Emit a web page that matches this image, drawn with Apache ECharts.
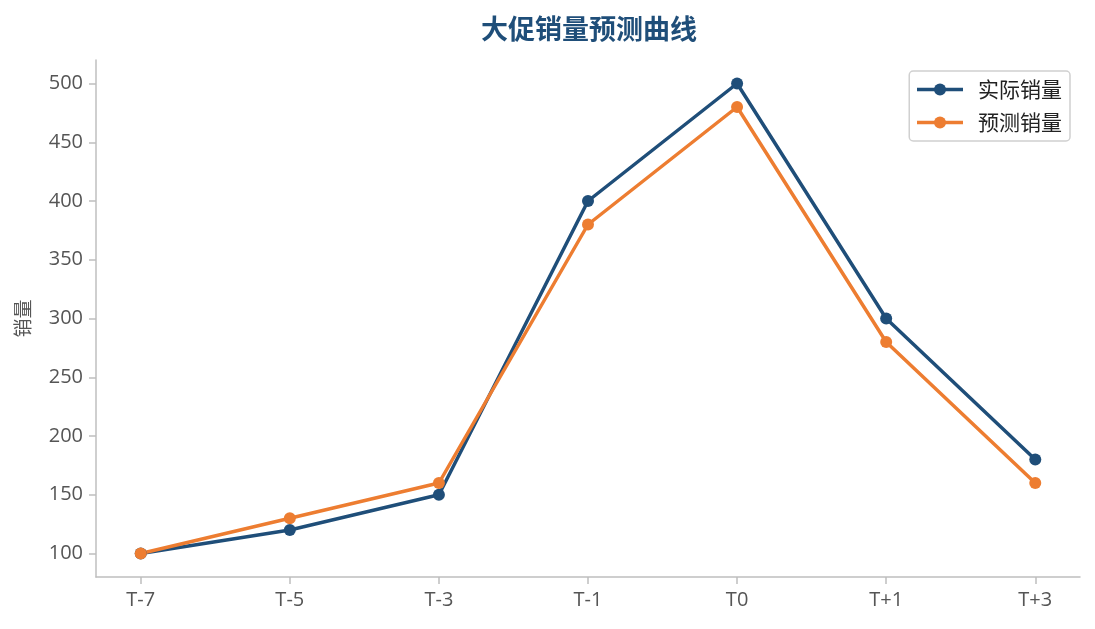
<!DOCTYPE html>
<html><head><meta charset="utf-8">
<script src="https://cdn.jsdelivr.net/npm/echarts@6/dist/echarts.min.js"></script>
<style>html,body{margin:0;padding:0;background:#fff}#c{width:1095px;height:629px}</style>
</head><body><div id="c"></div>
<script>
const categories = ['T-7','T-5','T-3','T-1','T0','T+1','T+3'];
const actualSales = [100,120,150,400,500,300,180];
const forecastSales = [100,130,160,380,480,280,160];
const yTicks = [100,150,200,250,300,350,400,450,500];

const FONT = '"Open Sans","Noto Sans CJK SC",sans-serif';
const CJK = '"Noto Sans CJK SC","Noto Sans",sans-serif';
const chart = echarts.init(document.getElementById('c'));
const idx = categories.map((_, i) => i);
chart.setOption({
  animation: false,
  title: {
    text: '大促销量预测曲线', left: 584, top: 10, textAlign: 'center',
    textStyle: {color: '#1f4e79', fontSize: 27, fontWeight: 'bold', fontFamily: CJK}
  },
  legend: {
    right: 25, top: 71, orient: 'vertical', itemGap: 12,
    itemWidth: 46, itemHeight: 15,
    padding: [8, 8, 8, 6],
    borderColor: '#d0d0d0', borderWidth: 1.5, borderRadius: 4,
    lineStyle: {width: 3.5},
    textStyle: {fontSize: 21, color: '#222', fontFamily: CJK, padding: [0, 0, 0, 10]},
    data: ['实际销量', '预测销量']
  },
  grid: {left: 96, right: 15, top: 60, bottom: 52, containLabel: false},
  xAxis: {
    type: 'value', min: -0.3, max: 6.3,
    axisLine: {show: true, onZero: false, lineStyle: {color: '#bfbfbf', width: 1.5}},
    axisTick: {show: true, customValues: idx, length: 7, lineStyle: {color: '#bfbfbf', width: 1.5}},
    axisLabel: {customValues: idx, formatter: v => categories[Math.round(v)], color: '#555', fontSize: 20, margin: 13, fontFamily: FONT},
    splitLine: {show: false}
  },
  yAxis: {
    type: 'value', min: 80, max: 520,
    name: '销量', nameLocation: 'middle', nameGap: 64, nameRotate: 90,
    nameTextStyle: {color: '#555', fontSize: 19, fontFamily: CJK},
    axisLine: {show: true, onZero: false, lineStyle: {color: '#bfbfbf', width: 1.5}},
    axisTick: {show: true, customValues: yTicks, length: 7, lineStyle: {color: '#bfbfbf', width: 1.5}},
    axisLabel: {customValues: yTicks, color: '#555', fontSize: 20, margin: 13, fontFamily: FONT},
    splitLine: {show: false}
  },
  series: [
    {
      name: '实际销量', type: 'line', data: actualSales.map((v, i) => [i, v]),
      symbol: 'circle', symbolSize: 12,
      itemStyle: {color: '#1f4e79'}, lineStyle: {color: '#1f4e79', width: 3.5}
    },
    {
      name: '预测销量', type: 'line', data: forecastSales.map((v, i) => [i, v]),
      symbol: 'circle', symbolSize: 12,
      itemStyle: {color: '#ed7d31'}, lineStyle: {color: '#ed7d31', width: 3.5}
    }
  ]
});
</script></body></html>
